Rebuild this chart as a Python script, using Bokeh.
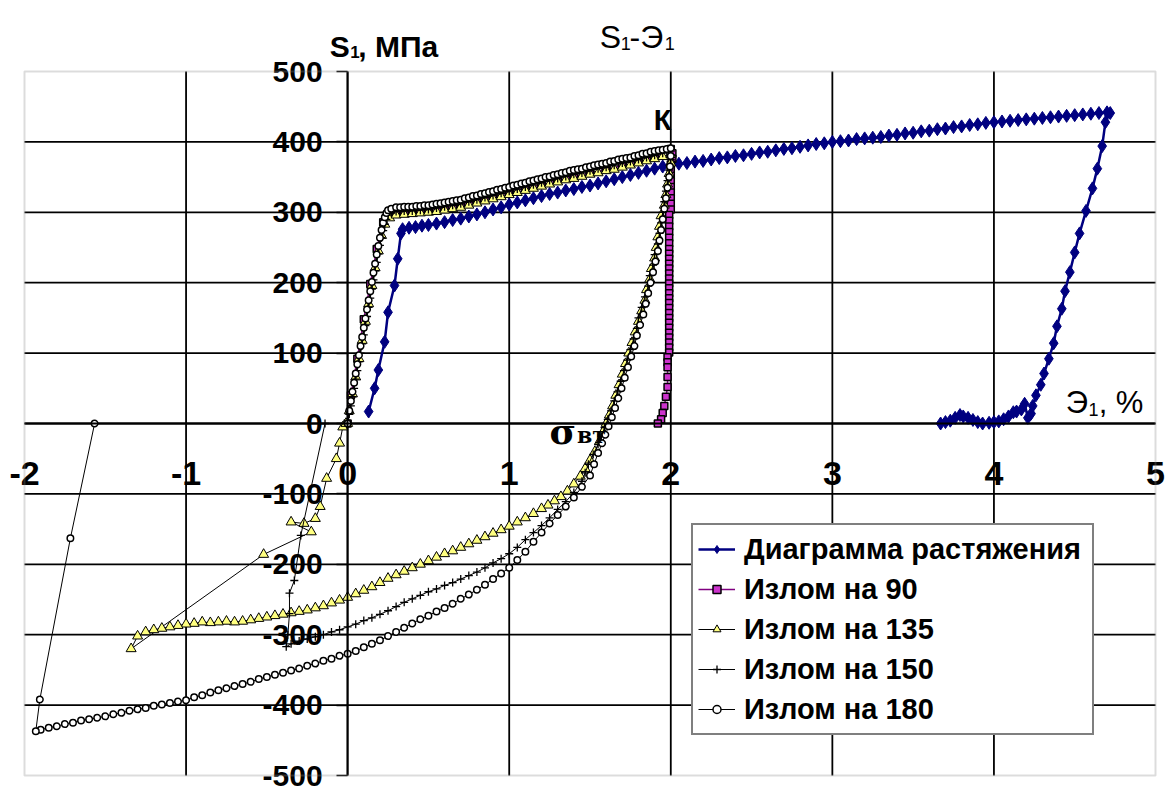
from bokeh.plotting import figure
from bokeh.models import Range1d, FixedTicker, Label, Legend, LegendItem, BoxAnnotation
from bokeh.embed import file_html
from bokeh.resources import INLINE

# ---------------- data: S1 (MPa) vs E1 (%) ----------------
# Tension diagram
diag_x = [0.13, 0.167, 0.19, 0.229, 0.25, 0.29, 0.31, 0.33,
          0.34, 0.38, 0.42, 0.46, 0.50, 0.55, 0.60, 0.65, 0.70, 0.75, 0.80, 0.85, 0.90, 0.95,
          1.00, 1.05, 1.10, 1.15, 1.20, 1.25, 1.30, 1.35, 1.40, 1.45, 1.50, 1.55, 1.60, 1.65,
          1.70, 1.75, 1.80, 1.85, 1.90, 1.95, 2.00, 2.05, 2.10, 2.15, 2.20, 2.25, 2.30, 2.35,
          2.40, 2.45, 2.50, 2.55, 2.60, 2.65, 2.70, 2.75, 2.80, 2.85, 2.90, 2.95, 3.00, 3.05,
          3.10, 3.15, 3.20, 3.25, 3.30, 3.35, 3.40, 3.45, 3.50, 3.55, 3.60, 3.65, 3.70, 3.75,
          3.80, 3.85, 3.90, 3.95, 4.00, 4.05, 4.10, 4.15, 4.20, 4.25, 4.30, 4.35, 4.40, 4.45,
          4.50, 4.55, 4.60, 4.65, 4.70, 4.72,
          4.69, 4.67, 4.64, 4.61, 4.57, 4.53, 4.50, 4.47, 4.44, 4.42, 4.39, 4.37, 4.34, 4.31,
          4.29, 4.26, 4.24, 4.23, 4.21, 4.19, 4.17, 4.14, 4.12, 4.09, 4.06, 4.03, 4.00, 3.97,
          3.93, 3.90, 3.87, 3.84, 3.81, 3.79, 3.76, 3.73, 3.70, 3.67]
diag_y = [17, 50, 76, 116, 158, 196, 234, 270,
          276, 278, 279, 281, 282, 284, 286, 289, 291, 294, 297, 300, 304, 307,
          311, 314, 317, 320, 323, 326, 328, 331, 333, 336, 338, 341, 344, 347,
          350, 353, 356, 359, 362, 365, 368, 369, 370, 372, 373, 375, 377, 378,
          380, 381, 383, 385, 386, 388, 390, 391, 393, 395, 397, 398, 400, 401,
          402, 404, 405, 406, 407, 409, 410, 412, 413, 415, 416, 418, 419, 421,
          422, 424, 425, 427, 428, 429, 430, 431, 432, 433, 434, 435, 436, 437,
          438, 439, 440, 441, 442, 441,
          428, 394, 362, 334, 302, 270, 243, 215, 188, 163, 138, 114, 92, 71,
          55, 40, 25, 14, 8, 28, 20, 17, 16, 10, 6, 3, 2, 1,
          0, 2, 5, 8, 10, 12, 8, 4, 2, 0]

# Break at 90
k90_x = [0.0, 0.02, 0.06, 0.10, 0.14, 0.18, 0.22, 0.30, 0.40, 0.50, 0.60, 0.70, 0.80, 0.90,
         1.00, 1.10, 1.20, 1.30, 1.40, 1.50, 1.60, 1.70, 1.80, 1.90, 2.00,
         2.01, 2.01, 2.00, 2.00, 2.00, 2.00, 2.00, 2.00, 2.00, 2.00, 2.00, 1.99, 1.99, 1.99,
         1.99, 1.99, 1.99, 1.99, 1.99, 1.99, 1.99, 1.99, 1.99, 1.99, 1.99, 1.99, 1.99, 1.99,
         1.99, 1.99, 1.99, 1.99, 1.99, 1.99, 1.99, 1.99, 1.99, 1.99, 1.99, 1.98, 1.98, 1.98,
         1.98, 1.98, 1.97, 1.96, 1.95, 1.94, 1.92]
k90_y = [0, 40, 92, 148, 198, 248, 286, 298, 300, 302, 306, 310, 316, 322,
         328, 334, 339, 345, 351, 356, 361, 366, 372, 378, 390,
         384, 376, 368, 360, 352, 344, 336, 328, 320, 312, 304, 296, 288, 280,
         272, 264, 256, 248, 241, 234, 227, 220, 213, 206, 199, 192, 185, 178,
         171, 164, 157, 150, 143, 136, 129, 122, 115, 108, 101, 94, 87, 80,
         66, 52, 38, 25, 15, 6, 0]

# Break at 135
k135_x = [0.0, 0.01, 0.03, 0.05, 0.07, 0.09, 0.11, 0.13, 0.15, 0.17, 0.19, 0.21, 0.23, 0.26, 0.30,
          0.35, 0.40, 0.45, 0.50, 0.55, 0.60, 0.65, 0.70, 0.75, 0.80, 0.85, 0.90, 0.95, 1.00,
          1.05, 1.10, 1.15, 1.20, 1.25, 1.30, 1.35, 1.40, 1.45, 1.50, 1.55, 1.60, 1.65, 1.70,
          1.75, 1.80, 1.85, 1.90, 1.95, 2.00,
          2.00, 1.99, 1.98, 1.97, 1.96, 1.94, 1.93, 1.92, 1.91, 1.90, 1.88, 1.87, 1.85, 1.84,
          1.82, 1.80, 1.78, 1.76, 1.74, 1.72, 1.70, 1.68, 1.66, 1.64, 1.62, 1.60, 1.58, 1.56,
          1.53, 1.50, 1.47, 1.44, 1.40, 1.36, 1.32, 1.28, 1.24, 1.20, 1.15, 1.10, 1.05, 1.00,
          0.95, 0.90, 0.85, 0.80, 0.75, 0.70, 0.65, 0.60, 0.55, 0.50, 0.45, 0.40, 0.35, 0.30,
          0.25, 0.20, 0.15, 0.10, 0.05, 0.00, -0.05, -0.10, -0.15, -0.20, -0.25, -0.30, -0.35,
          -0.40, -0.45, -0.50, -0.55, -0.60, -0.65, -0.70, -0.75, -0.80, -0.85, -0.90, -0.95,
          -1.00, -1.05, -1.10, -1.15, -1.20, -1.25, -1.30, -1.34,
          -0.52, -0.225, -0.35, -0.27, -0.20, -0.17, -0.13, -0.07, -0.05, -0.03, -0.01]
k135_y = [0, 18, 42, 66, 92, 118, 145, 170, 196, 221, 245, 267, 283, 292, 296,
          297, 298, 299, 300, 301, 303, 305, 307, 310, 313, 316, 319, 322, 325,
          328, 331, 334, 337, 340, 343, 346, 348, 351, 354, 356, 359, 361, 364,
          367, 370, 373, 376, 379, 382,
          370, 355, 340, 325, 310, 295, 280, 265, 250, 235, 220, 205, 190, 175,
          160, 145, 130, 115, 100, 85, 70, 55, 40, 25, 12, 0, -12, -25,
          -40, -52, -64, -75, -86, -96, -104, -110, -116, -121, -128, -134, -140, -146,
          -151, -156, -161, -166, -171, -176, -181, -185, -190, -195, -200, -205, -210, -215,
          -220, -226, -232, -237, -242, -247, -251, -255, -259, -262, -265, -267, -269,
          -271, -273, -275, -277, -279, -281, -282, -281, -282, -283, -282, -284,
          -285, -287, -289, -291, -293, -296, -302, -320,
          -186, -154, -140, -142, -135, -118, -78, -50, -28, -5, 0]

# Break at 150
k150_x = [0.0, 0.01, 0.02, 0.03, 0.04, 0.05, 0.06, 0.07, 0.08, 0.09, 0.10, 0.11, 0.12, 0.13,
          0.14, 0.15, 0.16, 0.17, 0.18, 0.19, 0.20, 0.21, 0.22, 0.23, 0.24, 0.25, 0.27,
          0.300, 0.325, 0.350, 0.375, 0.400, 0.425, 0.450, 0.475, 0.500, 0.525, 0.550, 0.575,
          0.600, 0.625, 0.650, 0.675, 0.700, 0.725, 0.750, 0.775, 0.800, 0.825, 0.850, 0.875,
          0.900, 0.925, 0.950, 0.975, 1.000, 1.025, 1.050, 1.075, 1.100, 1.125, 1.150, 1.175,
          1.200, 1.225, 1.250, 1.275, 1.300, 1.325, 1.350, 1.375, 1.400, 1.425, 1.450, 1.475,
          1.500, 1.525, 1.550, 1.575, 1.600, 1.625, 1.650, 1.675, 1.700, 1.725, 1.750, 1.775,
          1.800, 1.825, 1.850, 1.875, 1.900, 1.925, 1.950, 1.975, 2.000,
          2.00, 1.99, 1.98, 1.97, 1.96, 1.95, 1.94, 1.93, 1.92, 1.90, 1.89, 1.87, 1.86, 1.84,
          1.82, 1.80, 1.79, 1.77, 1.75, 1.73, 1.71, 1.69, 1.67, 1.65, 1.63, 1.61, 1.59, 1.57,
          1.55, 1.52, 1.49, 1.47, 1.45, 1.40, 1.35, 1.30, 1.25, 1.20, 1.15, 1.10, 1.05, 1.00,
          0.95, 0.90, 0.85, 0.80, 0.75, 0.70, 0.65, 0.60, 0.55, 0.50, 0.45, 0.40, 0.35, 0.30,
          0.25, 0.20, 0.15, 0.10, 0.05, 0.00, -0.05, -0.10, -0.15, -0.20, -0.25, -0.30, -0.35,
          -0.38, -0.37, -0.36, -0.36, -0.33, -0.29, -0.14]
k150_y = [0, 13, 25, 38, 50, 63, 75, 88, 100, 113, 126, 139, 152, 165,
          178, 191, 204, 217, 229, 241, 253, 264, 274, 283, 290, 296, 299,
          301, 301, 302, 302, 302, 303, 303, 304, 304, 305, 306, 307,
          308, 309, 310, 311, 312, 314, 315, 317, 318, 320, 321, 323,
          324, 326, 327, 329, 330, 332, 333, 335, 336, 338, 339, 341,
          342, 344, 345, 347, 348, 350, 351, 353, 354, 355, 356, 358,
          359, 361, 362, 363, 364, 366, 367, 369, 370, 371, 372, 374,
          375, 377, 378, 380, 381, 383, 384, 386, 387,
          375, 360, 345, 330, 315, 300, 285, 270, 255, 240, 225, 210, 195, 180,
          165, 150, 135, 120, 105, 90, 75, 60, 45, 32, 18, 6, -6, -18,
          -30, -44, -58, -70, -82, -98, -111, -122, -134, -145, -155, -165, -176, -185,
          -192, -198, -205, -211, -216, -221, -226, -230, -235, -239, -244, -249, -254, -260,
          -266, -271, -276, -280, -285, -289, -293, -296, -300, -303, -306, -309, -313,
          -317, -300, -270, -241, -223, -159, 0]

# Break at 180
k180_x = [0.0, 0.01, 0.02, 0.03, 0.04, 0.05, 0.06, 0.07, 0.08, 0.09, 0.10, 0.11, 0.12, 0.13,
          0.14, 0.15, 0.16, 0.17, 0.18, 0.19, 0.20, 0.21, 0.22, 0.23, 0.24, 0.25, 0.27,
          0.300, 0.325, 0.350, 0.375, 0.400, 0.425, 0.450, 0.475, 0.500, 0.525, 0.550, 0.575,
          0.600, 0.625, 0.650, 0.675, 0.700, 0.725, 0.750, 0.775, 0.800, 0.825, 0.850, 0.875,
          0.900, 0.925, 0.950, 0.975, 1.000, 1.025, 1.050, 1.075, 1.100, 1.125, 1.150, 1.175,
          1.200, 1.225, 1.250, 1.275, 1.300, 1.325, 1.350, 1.375, 1.400, 1.425, 1.450, 1.475,
          1.500, 1.525, 1.550, 1.575, 1.600, 1.625, 1.650, 1.675, 1.700, 1.725, 1.750, 1.775,
          1.800, 1.825, 1.850, 1.875, 1.900, 1.925, 1.950, 1.975, 2.000,
          2.00, 1.995, 1.99, 1.98, 1.97, 1.96, 1.95, 1.94, 1.93, 1.92, 1.905, 1.89, 1.875, 1.86,
          1.845, 1.83, 1.81, 1.79, 1.775, 1.755, 1.735, 1.715, 1.695, 1.675, 1.655, 1.635, 1.615,
          1.595, 1.575, 1.55, 1.525, 1.50, 1.45, 1.40, 1.35, 1.30, 1.25, 1.20, 1.15, 1.10, 1.05,
          1.00, 0.95, 0.90, 0.85, 0.80, 0.75, 0.70, 0.65, 0.60, 0.55, 0.50, 0.45, 0.40, 0.35,
          0.30, 0.25, 0.20, 0.15, 0.10, 0.05, 0.00, -0.05, -0.10, -0.15, -0.20, -0.25, -0.30,
          -0.35, -0.40, -0.45, -0.50, -0.55, -0.60, -0.65, -0.70, -0.75, -0.80, -0.85, -0.90,
          -0.95, -1.00, -1.05, -1.10, -1.15, -1.20, -1.25, -1.30, -1.35, -1.40, -1.45, -1.50,
          -1.55, -1.60, -1.65, -1.70, -1.75, -1.80, -1.85, -1.90, -1.93,
          -1.905, -1.716, -1.566]
k180_y = [0, 18, 32, 45, 58, 71, 84, 97, 110, 123, 136, 149, 162, 175,
          188, 201, 214, 227, 240, 252, 264, 275, 285, 293, 299, 303, 305,
          307, 307, 308, 308, 308, 309, 309, 310, 310, 311, 312, 313,
          314, 315, 316, 317, 318, 320, 321, 323, 324, 326, 327, 329,
          330, 332, 333, 335, 336, 338, 339, 341, 342, 344, 345, 347,
          348, 350, 351, 353, 354, 356, 357, 359, 360, 361, 362, 364,
          365, 367, 368, 369, 370, 372, 373, 375, 376, 377, 378, 380,
          381, 383, 384, 386, 387, 388, 389, 390, 391,
          380, 365, 350, 335, 320, 305, 290, 275, 260, 245, 230, 215, 200, 185,
          170, 155, 140, 125, 110, 95, 80, 65, 50, 36, 22, 9, -4,
          -16, -28, -42, -58, -74, -90, -105, -118, -130, -142, -155, -168, -182, -194,
          -205, -213, -221, -229, -236, -243, -249, -256, -262, -267, -273, -278, -284, -290,
          -296, -302, -308, -313, -318, -323, -327, -330, -334, -337, -341, -344, -348,
          -351, -354, -357, -360, -363, -367, -370, -373, -376, -379, -382, -386,
          -389, -393, -395, -397, -399, -401, -404, -406, -408, -411, -413, -416,
          -418, -420, -422, -425, -427, -430, -432, -435, -437,
          -392, -163, 0]

x_ticks = [-2, -1, 0, 1, 2, 3, 4, 5]
y_ticks = [-500, -400, -300, -200, -100, 0, 100, 200, 300, 400, 500]

FONT = "Liberation Sans"

# ---------------- layout: plot area inside a full-page frame ----------------
W, H = 1167, 791
AREA_L, AREA_R, AREA_T, AREA_B = 24, 1155, 71, 775
x0, x1 = x_ticks[0], x_ticks[-1]
y0, y1 = y_ticks[0], y_ticks[-1]
sx = (AREA_R - AREA_L) / (x1 - x0)
sy = (AREA_B - AREA_T) / (y1 - y0)
x_range = Range1d(x0 - AREA_L / sx, x1 + (W - AREA_R) / sx)
y_range = Range1d(y0 - (H - AREA_B) / sy, y1 + AREA_T / sy)

p = figure(frame_width=W, frame_height=H, x_range=x_range, y_range=y_range,
           output_backend="svg", toolbar_location=None, min_border=0)
p.background_fill_color = "white"
p.border_fill_color = "white"
p.outline_line_color = None
p.grid.visible = False

# gridlines inside the plot area
gx = x_ticks[1:-1]
gy = y_ticks[1:-1]
p.segment(x0=gx, y0=[y0] * len(gx), x1=gx, y1=[y1] * len(gx), line_color="black", line_width=1.8)
p.segment(x0=[x0] * len(gy), y0=gy, x1=[x1] * len(gy), y1=gy, line_color="black", line_width=1.8)

# axes crossing at the origin
p.xaxis.fixed_location = 0
p.yaxis.fixed_location = 0
p.xaxis.bounds = (x0, x1)
p.yaxis.bounds = (y0, y1)
p.xaxis.ticker = FixedTicker(ticks=x_ticks)
p.yaxis.ticker = FixedTicker(ticks=y_ticks)
p.xaxis.major_label_overrides = {t: str(t) for t in x_ticks}
p.yaxis.major_label_overrides = {t: str(t) for t in y_ticks}
for ax in (p.xaxis, p.yaxis):
    ax.axis_line_color = "black"
    ax.axis_line_width = 1.8
    ax.major_tick_line_color = "black"
    ax.major_tick_line_width = 1.5
    ax.minor_tick_line_color = None
    ax.major_tick_in = 0
    ax.major_label_text_font = FONT
    ax.major_label_text_font_style = "bold"
    ax.major_label_text_color = "black"
p.xaxis.major_tick_out = 0
p.xaxis.major_label_standoff = 38
p.xaxis.major_label_text_font_size = "34px"
p.yaxis.major_tick_out = 11
p.yaxis.major_label_standoff = 14
p.yaxis.major_label_text_font_size = "30px"

# series
r1l = p.line(diag_x, diag_y, line_color="#000080", line_width=2.5)
r1s = p.scatter(diag_x, diag_y, marker="diamond", size=13, fill_color="#000080", line_color="#000080")

r2l = p.line(k90_x, k90_y, line_color="#800080", line_width=1.5)
r2s = p.scatter(k90_x, k90_y, marker="square", size=7, fill_color="#CC33CC", line_color="black",
                line_width=1.5)

r3l = p.line(k135_x, k135_y, line_color="black", line_width=1)
r3s = p.scatter(k135_x, k135_y, marker="triangle", size=10, fill_color="#FFFF80", line_color="black")

r4l = p.line(k150_x, k150_y, line_color="black", line_width=1)
r4s = p.scatter(k150_x, k150_y, marker="cross", size=8, line_color="black", line_width=1.3)

r5l = p.line(k180_x, k180_y, line_color="black", line_width=1)
r5s = p.scatter(k180_x, k180_y, marker="circle", size=6.5, fill_color="white", line_color="black",
                line_width=1.5)

# plot-area border
p.add_layout(BoxAnnotation(left=x0, right=x1, bottom=y0, top=y1, fill_alpha=0,
                           line_color="#8a8a8a", line_width=2))

legend = Legend(items=[
    LegendItem(label="Диаграмма растяжения", renderers=[r1l, r1s]),
    LegendItem(label="Излом на 90", renderers=[r2l, r2s]),
    LegendItem(label="Излом на 135", renderers=[r3l, r3s]),
    LegendItem(label="Излом на 150", renderers=[r4l, r4s]),
    LegendItem(label="Излом на 180", renderers=[r5l, r5s]),
], location=(691, H - 735))
legend.label_text_font = FONT
legend.label_text_font_style = "bold"
legend.label_text_font_size = "29px"
legend.label_text_color = "black"
legend.label_height = 38
legend.label_width = 343
legend.label_standoff = 9
legend.glyph_width = 37
legend.glyph_height = 20
legend.spacing = 2
legend.padding = 5
legend.margin = 0
legend.border_line_color = "black"
legend.border_line_width = 2
legend.background_fill_color = "white"
legend.background_fill_alpha = 1
p.add_layout(legend)


def lab(x, y, text, size, style="bold", font=FONT, align="left"):
    p.add_layout(Label(x=x, y=y, text=text, text_font=font, text_font_size=size,
                       text_font_style=style, text_color="black", text_align=align,
                       text_baseline="alphabetic"))


# axis captions and title
lab(-0.111, 536, "S", "30px")
lab(0.016, 527, "1", "17px")
lab(0.066, 536, ", МПа", "30px")

lab(1.56, 549, "S", "32px", "normal")
lab(1.69, 540, "1", "18px", "normal")
lab(1.745, 549, "-Э", "32px", "normal")
lab(1.962, 540, "1", "18px", "normal")

lab(4.444, 30, "Э", "31px", "normal")
lab(4.586, 20, "1", "18px", "normal")
lab(4.648, 30, ", %", "31px", "normal")

# point markers on the chart
lab(1.95, 431.8, "К", "29px", align="center")
lab(1.25, -10, "σ", "36px", font="DejaVu Serif")
lab(1.42, -17, "вт", "22px", font="DejaVu Serif")

open("out.html", "w").write(file_html(p, INLINE))
